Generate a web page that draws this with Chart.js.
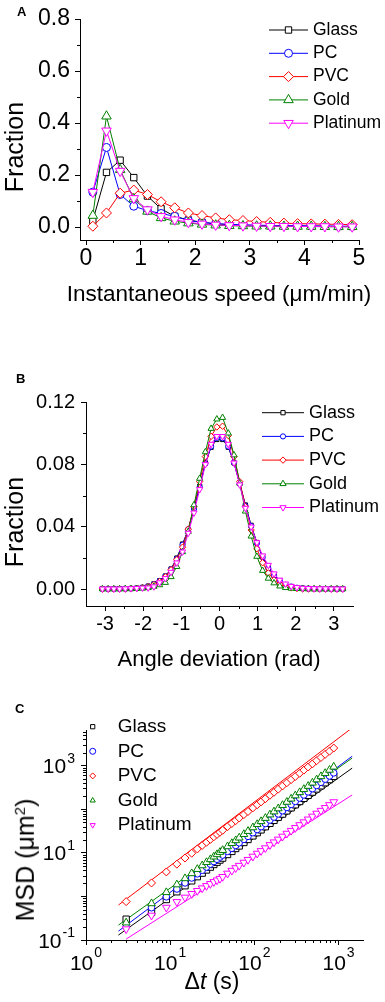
<!DOCTYPE html>
<html>
<head>
<meta charset="utf-8">
<script src="https://cdn.jsdelivr.net/npm/chart.js@4.4.1/dist/chart.umd.min.js"></script>
<style>
  body { margin: 0; background: #fff; font-family: "Liberation Sans", Arial, sans-serif; }
  #page { position: relative; width: 385px; height: 1002px; overflow: hidden; }
  canvas { position: absolute; left: 0; }
  .txt { position: absolute; white-space: nowrap; line-height: 1; color: #000; }
  .tag { font-weight: bold; font-size: 13px; }
  .ytitle { transform: translate(-50%, -50%) rotate(-90deg); font-size: 25px; }
  .xtitle { transform: translate(-50%, -50%); font-size: 22px; }
</style>
</head>
<body>
<div id="page">
  <canvas id="speed" width="385" height="330" style="top:0"></canvas>
  <canvas id="angle" width="385" height="350" style="top:330px"></canvas>
  <canvas id="msd" width="385" height="322" style="top:680px"></canvas>

  <div class="txt tag" style="left:17px;top:5px">A</div>
  <div class="txt tag" style="left:16px;top:372px">B</div>
  <div class="txt tag" style="left:15px;top:702px">C</div>

  <div class="txt ytitle" style="left:14px;top:147px">Fraction</div>
  <div class="txt xtitle" style="left:219px;top:294px;font-size:22.5px">Instantaneous speed (μm/min)</div>
  <div class="txt ytitle" style="left:14px;top:522px">Fraction</div>
  <div class="txt xtitle" style="left:219px;top:659px">Angle deviation (rad)</div>
  <div class="txt ytitle" style="left:25px;top:860px">MSD (μm<sup style="font-size:15px">2</sup>)</div>
  <div class="txt xtitle" style="left:212px;top:981px;font-size:23px">Δ<i>t</i> (s)</div>
</div>

<script>
// ---- panel A: instantaneous speed histogram ----
const speedBins = [0.125, 0.375, 0.625, 0.875, 1.125, 1.375, 1.625, 1.875, 2.125, 2.375,
                   2.625, 2.875, 3.125, 3.375, 3.625, 3.875, 4.125, 4.375, 4.625, 4.875];
const glassSpeed = [0.025, 0.21, 0.257, 0.19, 0.119, 0.07, 0.041, 0.027, 0.018, 0.012,
                    0.009, 0.007, 0.006, 0.005, 0.004, 0.004, 0.003, 0.003, 0.002, 0.002];
const pcSpeed = [0.134, 0.306, 0.125, 0.08, 0.063, 0.052, 0.041, 0.025, 0.018, 0.013,
                 0.01, 0.008, 0.007, 0.006, 0.005, 0.005, 0.004, 0.004, 0.003, 0.003];
const pvcSpeed = [0.003, 0.054, 0.13, 0.142, 0.125, 0.097, 0.074, 0.054, 0.044, 0.035,
                  0.028, 0.025, 0.021, 0.018, 0.015, 0.013, 0.012, 0.011, 0.010, 0.009];
const goldSpeed = [0.044, 0.426, 0.22, 0.108, 0.06, 0.035, 0.022, 0.015, 0.01, 0.007,
                   0.005, 0.004, 0.003, 0.003, 0.002, 0.002, 0.002, 0.001, 0.001, 0.001];
const platSpeed = [0.134, 0.37, 0.215, 0.11, 0.067, 0.041, 0.028, 0.018, 0.012, 0.008,
                   0.006, 0.005, 0.004, 0.003, 0.003, 0.002, 0.002, 0.002, 0.001, 0.001];
const speedTicks = [0, 1, 2, 3, 4, 5];
const speedFracTicks = [0, 0.2, 0.4, 0.6, 0.8];

// ---- panel B: angle deviation histogram ----
const angleBins = [-3.07, -2.92, -2.77, -2.62, -2.47, -2.32, -2.17, -2.02, -1.87, -1.72, -1.57,
                   -1.42, -1.27, -1.12, -0.97, -0.82, -0.67, -0.52, -0.37, -0.22, -0.07, 0.08,
                   0.23, 0.38, 0.53, 0.68, 0.83, 0.98, 1.13, 1.28, 1.43, 1.58, 1.73, 1.88,
                   2.03, 2.18, 2.33, 2.48, 2.63, 2.78, 2.93, 3.08, 3.23];
const glassAngle = [0.0003, 0.0003, 0.0003, 0.0004, 0.0004, 0.0005, 0.0007, 0.0012, 0.0020, 0.0035,
                    0.0055, 0.0085, 0.0130, 0.0200, 0.0290, 0.0380, 0.0520, 0.0660, 0.0810, 0.0910,
                    0.0960, 0.0960, 0.0910, 0.0810, 0.0680, 0.0540, 0.0410, 0.0300, 0.0210, 0.0140,
                    0.0090, 0.0055, 0.0030, 0.0018, 0.0010, 0.0007, 0.0005, 0.0004, 0.0004, 0.0003,
                    0.0003, 0.0003, 0.0003];
const pcAngle = [0.0003, 0.0003, 0.0003, 0.0003, 0.0004, 0.0005, 0.0007, 0.0011, 0.0019, 0.0033,
                 0.0053, 0.0083, 0.0128, 0.0195, 0.0285, 0.0385, 0.0515, 0.0655, 0.0805, 0.0915,
                 0.0970, 0.0968, 0.0915, 0.0812, 0.0675, 0.0535, 0.0405, 0.0295, 0.0205, 0.0135,
                 0.0088, 0.0052, 0.0029, 0.0017, 0.0010, 0.0006, 0.0005, 0.0004, 0.0003, 0.0003,
                 0.0003, 0.0003, 0.0003];
const pvcAngle = [0.0002, 0.0002, 0.0002, 0.0003, 0.0003, 0.0004, 0.0006, 0.0010, 0.0017, 0.0030,
                  0.0050, 0.0080, 0.0125, 0.0190, 0.0270, 0.0385, 0.0530, 0.0690, 0.0850, 0.0980,
                  0.1040, 0.1045, 0.0985, 0.0850, 0.0690, 0.0530, 0.0380, 0.0260, 0.0170, 0.0105,
                  0.0060, 0.0032, 0.0017, 0.0009, 0.0005, 0.0003, 0.0002, 0.0002, 0.0002, 0.0002,
                  0.0002, 0.0002, 0.0002];
const goldAngle = [0.0002, 0.0002, 0.0002, 0.0002, 0.0003, 0.0003, 0.0004, 0.0006, 0.0010, 0.0018,
                   0.0028, 0.0043, 0.0080, 0.0145, 0.0240, 0.0370, 0.0540, 0.0710, 0.0880, 0.1030,
                   0.1090, 0.1100, 0.1000, 0.0860, 0.0680, 0.0500, 0.0340, 0.0210, 0.0120, 0.0070,
                   0.0040, 0.0020, 0.0010, 0.0006, 0.0004, 0.0003, 0.0002, 0.0002, 0.0002, 0.0002,
                   0.0002, 0.0002, 0.0002];
const platAngle = [0.0003, 0.0003, 0.0003, 0.0003, 0.0004, 0.0005, 0.0007, 0.0009, 0.0010, 0.0017,
                   0.0043, 0.0070, 0.0110, 0.0170, 0.0240, 0.0360, 0.0490, 0.0640, 0.0800, 0.0930,
                   0.0980, 0.0980, 0.0930, 0.0810, 0.0670, 0.0520, 0.0400, 0.0300, 0.0215, 0.0155,
                   0.0100, 0.0060, 0.0035, 0.0020, 0.0012, 0.0008, 0.0006, 0.0005, 0.0004, 0.0004,
                   0.0003, 0.0003, 0.0003];
const angleTicks = [-3, -2, -1, 0, 1, 2, 3];
const angleFracTicks = [0, 0.04, 0.08, 0.12];

// ---- panel C: mean squared displacement ----
const lagTimes = [3, 6, 9, 12, 15, 18, 21, 24, 27, 30, 33, 36, 39, 42, 48, 54, 60, 66, 75, 84,
                  96, 108, 120, 135, 153, 171, 192, 216, 243, 273, 306, 345, 387, 435, 489, 549,
                  618, 693, 780, 876];
const glassMsd = [0.30, 0.43, 0.85, 1.28, 1.76, 2.28, 2.84, 3.43, 4.05, 4.71, 5.40, 6.09, 6.84, 7.59,
                  9.17, 10.8, 12.6, 14.4, 17.3, 20.3, 24.5, 29.0, 33.7, 39.8, 47.6, 55.7, 65.6, 77.6,
                  91.9, 108, 127, 151, 178, 209, 248, 293, 346, 407, 481, 569];
const pcMsd = [0.20, 0.55, 0.98, 1.48, 2.04, 2.65, 3.30, 3.99, 4.72, 5.50, 6.31, 7.13, 8.0, 8.89,
               10.8, 12.7, 14.8, 17.0, 20.4, 23.9, 29.0, 34.3, 39.9, 47.2, 56.5, 66.2, 78.2, 92.5,
               110, 129, 152, 181, 213, 251, 297, 352, 416, 491, 581, 684];
const pvcMsd = [0.76, 2.04, 3.65, 5.5, 7.6, 9.8, 12.3, 14.8, 17.5, 20.4, 23.4, 26.5, 29.7, 33.0,
                40.0, 47.3, 55.0, 63.1, 75.7, 88.9, 108, 127, 148, 175, 210, 246, 290, 344,
                407, 480, 566, 671, 792, 934, 1104, 1306, 1545, 1824, 2153, 2541];
const goldMsd = [0.25, 0.69, 1.24, 1.87, 2.59, 3.37, 4.22, 5.12, 6.07, 7.08, 8.15, 9.22, 10.4, 11.5,
                 14.0, 16.6, 19.3, 22.2, 26.7, 31.5, 38.2, 45.3, 52.8, 62.7, 75.3, 88.3, 104, 124,
                 147, 174, 206, 244, 289, 341, 405, 480, 569, 673, 798, 942];
const platMsd = [0.178, 0.366, 0.557, 0.752, 0.949, 1.15, 1.35, 1.55, 1.75, 1.95, 2.16, 2.36, 2.56,
                 2.83, 3.37, 3.92, 4.50, 5.10, 6.01, 6.97, 8.28, 9.66, 11.1, 12.9, 15.2, 17.6, 20.4,
                 23.8, 27.8, 32.3, 37.5, 43.7, 50.8, 59.0, 68.7, 80.2, 93.3, 108, 126, 147];
// power-law fit lines: [start, end]
const fitTimes = [2.43, 1450];
const platFitTimes = [3.0, 1450];
const glassFit = [0.13, 880];
const pcFit = [0.16, 1650];
const pvcFit = [0.635, 7400];
const goldFit = [0.22, 1500];
const platFit = [0.105, 213];
const timeTicks = [1, 10, 100, 1000];
const timeTickPowers = ['0', '1', '2', '3'];
const msdTicks = [0.1, 1, 10, 100, 1000];
const msdTickPowers = ['-1', null, '1', null, '3'];

const surfaces = ['Glass', 'PC', 'PVC', 'Gold', 'Platinum'];
const colors = ['#000000', '#0000ff', '#ff0000', '#008000', '#ff00ff'];
const shapes = ['rect', 'circle', 'rectRot', 'triangle', 'triangle'];
const rotations = [0, 0, 0, 0, 180];

const FONT = '"Liberation Sans", Arial, sans-serif';
Chart.defaults.font.family = FONT;
Chart.defaults.color = '#000';

const pts = (xs, ys) => xs.map((x, i) => ({ x: x, y: ys[i] }));

// short outward ticks between the labelled ones
const minorTicks = {
  id: 'minorTicks',
  afterDraw(chart, args, opts) {
    const ctx = chart.ctx, area = chart.chartArea;
    ctx.save();
    ctx.strokeStyle = '#000';
    ctx.lineWidth = 1;
    ctx.beginPath();
    (opts.x || []).forEach(v => {
      const px = Math.round(chart.scales.x.getPixelForValue(v)) + 0.5;
      ctx.moveTo(px, area.bottom);
      ctx.lineTo(px, area.bottom + 3);
    });
    (opts.y || []).forEach(v => {
      const py = Math.round(chart.scales.y.getPixelForValue(v)) + 0.5;
      ctx.moveTo(area.left, py);
      ctx.lineTo(area.left - 3, py);
    });
    ctx.stroke();
    ctx.restore();
  }
};

// "10" with a raised exponent, placed by the log scales
const powerLabels = {
  id: 'powerLabels',
  afterDraw(chart, args, opts) {
    if (!opts.x) return;
    const ctx = chart.ctx, area = chart.chartArea;
    const base = '21px ' + FONT, sup = '14px ' + FONT;
    ctx.save();
    ctx.fillStyle = '#000';
    ctx.textBaseline = 'alphabetic';
    opts.x.forEach((v, i) => {
      const p = opts.xPowers[i];
      if (p === null) return;
      const px = chart.scales.x.getPixelForValue(v);
      ctx.font = base; const wb = ctx.measureText('10').width;
      ctx.font = sup; const we = ctx.measureText(p).width;
      const x0 = px - (wb + we + 1) / 2;
      ctx.font = base; ctx.fillText('10', x0, area.bottom + 30);
      ctx.font = sup; ctx.fillText(p, x0 + wb + 1, area.bottom + 17);
    });
    opts.y.forEach((v, i) => {
      const p = opts.yPowers[i];
      if (p === null) return;
      const py = chart.scales.y.getPixelForValue(v);
      const right = area.left - 11;
      ctx.font = sup; const we = ctx.measureText(p).width;
      ctx.fillText(p, right - we, py - 3);
      ctx.font = base; const wb = ctx.measureText('10').width;
      ctx.fillText('10', right - we - 1 - wb, py + 7.5);
    });
    ctx.restore();
  }
};

// legend drawn at a fixed spot, like the original figure
const panelLegend = {
  id: 'panelLegend',
  afterDatasetsDraw(chart, args, opts) {
    const ctx = chart.ctx;
    let row = 0;
    chart.data.datasets.forEach(ds => {
      if (!ds.label) return;
      const y = opts.y + row * opts.gap;
      ctx.save();
      ctx.strokeStyle = ds.borderColor;
      ctx.lineWidth = 1;
      if (opts.lineLen) {
        ctx.beginPath();
        ctx.moveTo(opts.x, y);
        ctx.lineTo(opts.x + opts.lineLen, y);
        ctx.stroke();
      }
      ctx.fillStyle = '#fff';
      Chart.helpers.drawPoint(ctx, {
        pointStyle: ds.pointStyle,
        radius: opts.radius || ds.pointRadius,
        rotation: ds.pointRotation || 0,
        borderWidth: 1
      }, opts.x + (opts.lineLen || 0) / 2, y);
      ctx.fillStyle = '#000';
      ctx.font = opts.font;
      ctx.textBaseline = 'middle';
      ctx.fillText(ds.label, opts.textX, y);
      ctx.restore();
      row++;
    });
  }
};

function axis(type, min, max, tickValues, labels, size, pad) {
  return {
    type: type, min: min, max: max,
    afterBuildTicks: s => { s.ticks = tickValues.map(v => ({ value: v })); },
    ticks: { font: { size: size }, color: '#000', padding: pad, autoSkip: false, maxRotation: 0,
             callback: (v, i) => labels[i] },
    grid: { drawOnChartArea: false, color: '#000', tickLength: 5 },
    border: { color: '#000', width: 1 }
  };
}

function seriesSet(xs, ys, i, radius, showLine) {
  return {
    label: surfaces[i],
    data: pts(xs, ys),
    borderColor: colors[i],
    backgroundColor: '#fff',
    pointBorderColor: colors[i],
    pointBackgroundColor: '#fff',
    pointStyle: shapes[i],
    pointRotation: rotations[i],
    pointRadius: radius[i],
    pointBorderWidth: 1,
    borderWidth: 1,
    showLine: showLine,
    tension: 0,
    order: 10 - i
  };
}

function baseOptions(pad, xAxis, yAxis, xHeight, yWidth, legend, minor, powers) {
  xAxis.afterFit = s => { s.height = xHeight; };
  yAxis.afterFit = s => { s.width = yWidth; };
  return {
    responsive: false,
    animation: false,
    layout: { padding: pad },
    scales: { x: xAxis, y: yAxis },
    plugins: { legend: { display: false }, tooltip: { enabled: false },
               panelLegend: legend, minorTicks: minor, powerLabels: powers || {} }
  };
}

// panel A
const speedSeries = [glassSpeed, pcSpeed, pvcSpeed, goldSpeed, platSpeed];
new Chart(document.getElementById('speed'), {
  type: 'line',
  data: { datasets: speedSeries.map((ys, i) => seriesSet(speedBins, ys, i, [4.5, 4, 5, 5.5, 5.5], true)) },
  options: baseOptions(
    { top: 19, right: 26, left: 0, bottom: 0 },
    axis('linear', -0.11, 5, speedTicks, speedTicks.map(String), 23, 0),
    axis('linear', -0.05, 0.8, speedFracTicks, speedFracTicks.map(v => v.toFixed(1)), 23, 5),
    90, 80,
    { x: 269, y: 30, gap: 23.3, lineLen: 39, textX: 313, font: '17.5px ' + FONT },
    { x: [0.5, 1.5, 2.5, 3.5, 4.5], y: [0.1, 0.3, 0.5, 0.7] }
  ),
  plugins: [minorTicks, panelLegend]
});

// panel B
const angleSeries = [glassAngle, pcAngle, pvcAngle, goldAngle, platAngle];
new Chart(document.getElementById('angle'), {
  type: 'line',
  data: { datasets: angleSeries.map((ys, i) => seriesSet(angleBins, ys, i, [3, 2.6, 3.2, 3.6, 3.6], true)) },
  options: baseOptions(
    { top: 72, right: 32, left: 0, bottom: 0 },
    axis('linear', -3.5, 3.5, angleTicks, angleTicks.map(String), 20, 1),
    axis('linear', -0.0107, 0.12, angleFracTicks, angleFracTicks.map(v => v.toFixed(2)), 20, 6),
    74, 86,
    { x: 262, y: 82.7, gap: 23.7, lineLen: 42, textX: 309, font: '18px ' + FONT },
    { x: [-2.5, -1.5, -0.5, 0.5, 1.5, 2.5], y: [0.02, 0.06, 0.1] }
  ),
  plugins: [minorTicks, panelLegend]
});

// panel C
const msdSeries = [glassMsd, pcMsd, pvcMsd, goldMsd, platMsd];
const fitSeries = [glassFit, pcFit, pvcFit, goldFit, platFit];
const msdSets = msdSeries.map((ys, i) => seriesSet(lagTimes, ys, i, [4.5, 3.3, 4, 4.5, 4.5], false));
fitSeries.forEach((ys, i) => {
  msdSets.push({
    data: pts(i === 4 ? platFitTimes : fitTimes, ys),
    borderColor: colors[i],
    borderWidth: 1,
    pointRadius: 0,
    showLine: true,
    order: 20
  });
});
const minorLogX = [], minorLogY = [];
[1, 10, 100].forEach(d => { for (let m = 2; m <= 9; m++) minorLogX.push(m * d); });
[0.1, 1, 10, 100, 1000].forEach(d => { for (let m = 2; m <= 9; m++) if (m * d < 6600) minorLogY.push(m * d); });
new Chart(document.getElementById('msd'), {
  type: 'line',
  data: { datasets: msdSets },
  options: baseOptions(
    { top: 50, right: 22, left: 0, bottom: 0 },
    axis('logarithmic', 1, 1950, timeTicks, timeTicks.map(() => ''), 21, 3),
    axis('logarithmic', 0.1, 6600, msdTicks, msdTicks.map(() => ''), 21, 4),
    62, 86,
    { x: 92.7, y: 46.7, gap: 24.6, lineLen: 0, textX: 117.7, radius: 3, font: '19px ' + FONT },
    { x: minorLogX, y: minorLogY },
    { x: timeTicks, xPowers: timeTickPowers, y: msdTicks, yPowers: msdTickPowers }
  ),
  plugins: [minorTicks, panelLegend, powerLabels]
});
</script>
</body>
</html>
